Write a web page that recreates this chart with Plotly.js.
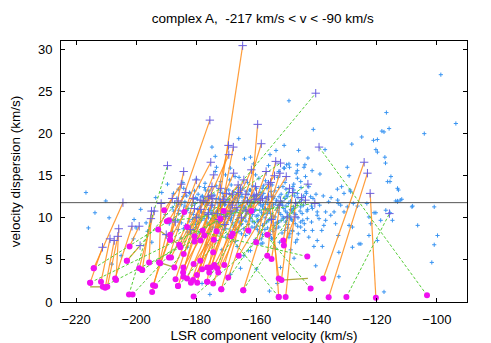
<!DOCTYPE html>
<html><head><meta charset="utf-8">
<script src="https://cdn.plot.ly/plotly-3.0.1.min.js"></script>
<style>html,body{margin:0;padding:0;background:#fff}#chart{width:491px;height:343px}</style>
</head><body><div id="chart"></div>
<script>
// ---- data ----
const chartTitle = "complex A,  -217 km/s < v < -90 km/s";
const xLabel = "LSR component velocity (km/s)";
const yLabel = "velocity dispersion (km/s)";
const xTicks = [-220, -200, -180, -160, -140, -120, -100];
const yTicks = [0, 5, 10, 15, 20, 25, 30];
const meanSigma = 11.8;

// background components (blue)
const blueX = [
-98.7,-93.7,-149.2,-141.1,-116.8,-118.3,-117.6,-115.9,-104.2,-125.0,-121.1,-119.8,-128.3,-120.3,-119.8,-117.3,-117.1,-142.9,-143.9,-144.2,-138.9,-129.2,-115.3,-115.6,-116.4,-113.1,-112.8,-111.7,-112.2,-113.1,-108.3,-100.9,-106.4,-99.8,-100.9,-101.7,-117.6,-129.8,-131.7,-133.1,-128.9,-132.8,-127.8,-123.3,-120.3,-117.0,-115.6,-114.8,-122.6,-129.2,-133.7,-135.3,-137.0,-139.8,-139.2,-141.7,-141.4,-138.3,-139.8,-132.8,-125.3,-128.1,-132.6,-140.3,-132.6,-142.0,-142.6,-143.7,-145.3,-146.4,-147.6,-146.4,-150.0,-150.7,
-137.2,-149.2,-146.4,-130.9,-128.7,-129.8,-126.4,-120.9,-118.7,-122.0,-108.1,-132.0,-130.9,-134.2,-137.0,-139.8,-141.4,-145.3,-147.6,-149.8,-145.3,-143.1,-145.3,-144.0,-142.6,-140.9,-138.1,-147.0,-137.6,-128.1,-122.6,-119.8,-125.9,-113.7,-113.1,
-189.6,-187.2,-185.9,-174.8,-165.9,-164.0,-162.0,-173.7,-168.7,-173.3,-173.7,-170.3,-168.9,-165.8,-160.3,-159.2,-152.6,-150.9,-149.0,-147.6,-154.8,-158.1,-162.0,-167.6,-172.0,-175.6,-170.9,-164.8,-159.8,-154.2,-149.8,-146.4,-178.1,-177.0,-156.0,-161.0,-155.5,-150.8,-146.0,-153.5,
-186.5,-183.2,-181.0,-179.4,-176.8,-174.1,-172.6,-171.2,-169.5,-168.0,-166.3,-165.1,-163.7,-162.2,-161.0,-159.1,-157.6,-156.2,-155.0,-153.3,-151.8,-150.6,-148.7,-147.3,-145.0,-143.4,-141.2,
-188.0,-185.0,-182.7,-180.4,-178.8,-177.5,-175.9,-174.6,-173.1,-171.8,-170.4,-169.1,-167.7,-166.6,-165.4,-164.1,-162.9,-161.6,-160.3,-159.2,-158.0,-156.9,-155.5,-154.3,-153.0,-151.6,-150.2,-148.6,-146.9,-144.4,-143.0,-139.0,-136.0,-133.0,
-190.3,-187.5,-184.6,-182.0,-180.1,-178.3,-176.7,-175.2,-173.8,-172.3,-171.0,-169.7,-168.3,-167.1,-165.9,-164.5,-163.2,-161.9,-160.7,-159.5,-158.3,-157.1,-155.8,-154.5,-153.1,-151.9,-150.4,-149.1,-147.8,-146.2,-144.8,-143.2,
-189.0,-186.2,-183.6,-181.3,-179.2,-177.4,-175.6,-174.0,-172.7,-171.3,-169.9,-168.6,-167.2,-165.8,-164.3,-162.8,-161.4,-160.0,-158.7,-157.3,-155.9,-154.2,-152.7,-151.0,-149.5,-147.9,-146.3,-144.6,
-187.9,-184.3,-181.8,-179.9,-177.9,-176.1,-174.6,-172.9,-171.1,-169.4,-167.6,-165.9,-164.2,-162.4,-160.6,-158.9,-157.2,-155.4,-153.6,-151.5,-149.7,-148.0,-146.1,
-185.1,-180.8,-177.0,-173.5,-170.2,-167.0,-163.6,-160.4,-157.9,-155.0,-152.3,-149.2,-146.5,
-183.0,-176.5,-171.5,-166.4,-162.7,-158.5,-153.8,-148.6,
-164.2,-165.3,-154.8,-153.1,-178.1,-158.4,-162.0,-152.0,-148.1,-147.5,-168.6,-160.0,-155.7,-175.5,
-186.0,-182.3,-179.0,-175.8,-173.4,-170.1,-168.4,-166.0,-163.4,-161.2,-158.8,-156.5,-153.9,-151.2,-149.3,-145.2,-143.5,-140.2,-137.8,-135.2,
-184.5,-180.0,-177.1,-171.9,-167.1,-163.0,-157.0,-152.9,-150.5,-146.8,-141.5,
-216.7,-213.7,-210.1,-215.9,-208.1,-200.7,-200.0,-200.9,-196.2,-196.7,-193.5,-191.5,-194.8,-198.5,-205.0,-209.0,
-170.6,-166.9,-163.9,-160.9,-157.7,-154.6,-151.4,-168.2,-162.5,-156.4,-176.2,-179.6,-183.8,-172.2,-165.0,-159.6,-153.0,-148.3,-144.1,-161.8,-157.0,-169.0,-174.8,-166.2,
-187.6,-184.4,-182.1,-180.2,-178.0,-175.5,-173.4,-170.8,-169.0,-167.3,-165.6,-164.4,-162.8,-160.5,-158.4,-156.8,-154.4,-152.5,-149.9,-146.2,-144.3,
-186.3,-183.8,-181.5,-179.6,-176.6,-174.0,-172.4,-170.9,-168.5,-166.0,-164.8,-163.5,-162.3,-160.9,-158.6,-157.4,-156.2,-154.9,-153.6,-152.3,-150.9,-149.4,-147.7,-145.6,-141.7,
-186.0,-183.2,-181.0,-179.2,-177.5,-176.0,-174.5,-173.0,-171.7,-170.3,-169.0,-167.7,-166.5,-165.2,-163.9,-162.5,-161.3,-160.1,-158.9,-157.7,-156.5,-155.2,-153.8,-152.5,-151.2,-149.8,-148.4,-146.9,-145.5,
-187.5,-185.0,-182.4,-180.2,-178.3,-176.5,-174.8,-173.3,-172.0,-170.6,-169.2,-167.9,-166.5,-165.1,-163.5,-162.1,-160.7,-159.3,-158.0,-156.6,-155.0,-153.5,-151.8,-150.3,-148.7,-147.1,
-186.0,-183.0,-180.8,-178.9,-175.3,-173.7,-172.0,-170.2,-168.5,-166.8,-165.0,-163.3,-161.5,-159.7,-158.0,-156.3,-154.5,-152.6,-150.6,-148.9,
-184.2,-180.6,-177.3,-172.0,-169.2,-164.7,-162.3,-160.0,-157.7,-155.2,-152.6,-150.2,-147.9
];
const blueY = [
27.0,21.2,23.9,20.5,22.5,20.3,20.2,20.6,20.0,19.6,19.2,19.3,18.75,18.1,17.8,17.2,16.5,17.1,16.3,16.0,15.2,15.0,14.9,14.3,14.3,13.5,13.3,12.2,12.1,12.0,11.3,11.3,9.1,7.9,6.8,4.7,1.2,16.0,13.7,13.4,13.3,11.7,11.7,11.7,10.6,10.9,10.6,9.7,10.1,9.1,9.3,10.3,10.7,10.7,9.9,9.5,8.5,8.5,7.3,7.9,6.9,6.5,5.9,4.3,3.0,12.5,13.7,14.9,14.3,14.7,14.0,16.3,16.3,15.9,
18.1,16.4,15.6,12.9,13.1,11.3,11.4,10.6,9.7,9.3,11.4,11.5,10.7,10.7,9.7,10.3,11.1,11.3,11.1,10.1,9.5,9.9,8.9,8.5,7.7,6.6,6.6,7.1,9.1,8.9,7.9,7.3,6.9,12.0,11.9,
14.0,11.8,10.9,18.4,19.4,17.0,17.2,17.3,15.9,16.0,15.5,15.1,14.5,14.8,15.1,14.7,15.5,15.9,16.0,13.3,13.9,13.5,13.3,13.1,13.3,12.5,12.5,12.5,12.7,12.5,12.5,12.9,12.5,13.3,16.2,16.4,17.5,18.6,18.0,18.0,
12.3,12.6,12.2,12.8,12.1,12.7,12.3,12.9,12.2,12.6,12.1,12.8,12.4,12.0,12.6,12.3,12.9,12.2,12.7,12.1,12.8,12.3,12.0,12.6,12.2,12.9,12.3,
11.2,11.6,11.1,11.7,11.3,11.9,11.0,11.5,11.8,11.1,11.6,11.3,11.9,11.0,11.5,11.2,11.8,11.4,11.0,11.7,11.3,11.9,11.1,11.6,11.2,11.8,11.4,11.0,11.7,11.5,11.0,11.5,11.9,12.1,
10.4,10.8,10.2,10.6,10.1,10.7,10.3,10.9,10.5,10.1,10.8,10.4,10.0,10.7,10.3,10.9,10.5,10.1,10.8,10.3,10.6,10.0,10.7,10.2,10.9,10.4,10.8,10.3,10.6,10.0,10.5,10.8,
9.3,9.7,9.1,9.8,9.4,9.9,9.2,9.6,9.0,9.8,9.4,9.7,9.1,9.5,9.9,9.2,9.6,9.0,9.8,9.3,9.7,9.1,9.5,9.9,9.2,9.6,9.0,9.7,
8.4,8.7,8.2,8.9,8.5,8.1,8.8,8.3,8.6,8.0,8.9,8.4,8.7,8.2,8.8,8.3,8.6,8.0,8.7,8.2,8.8,8.4,8.1,
7.6,7.1,7.8,7.3,7.7,7.2,7.9,7.4,7.0,7.6,7.1,7.7,7.4,
6.5,6.8,6.2,6.6,6.1,6.9,6.4,6.2,
5.5,4.0,7.5,2.2,2.2,7.5,6.1,4.1,8.5,5.2,3.3,3.9,1.3,0.9,
13.4,13.0,13.7,13.2,13.8,13.4,13.9,13.6,13.1,13.8,13.0,13.5,13.2,13.7,13.0,13.6,13.1,12.8,12.6,12.4,
14.2,14.6,14.1,14.3,14.9,14.2,14.4,14.8,14.2,15.3,15.6,
13.0,10.6,12.0,8.8,4.5,9.8,8.8,7.5,8.4,9.4,12.4,13.0,7.1,11.0,5.5,10.0,
11.5,12.4,11.3,12.5,11.6,12.4,11.5,10.6,10.9,10.5,11.7,12.2,11.4,9.5,9.3,9.6,9.4,9.8,9.3,11.9,11.1,12.1,10.5,12.7,
12.9,12.5,12.9,12.4,12.6,12.4,12.2,12.5,12.8,12.3,12.5,12.0,12.8,12.2,12.6,12.4,12.3,12.5,12.7,12.4,12.6,
11.4,11.9,11.5,11.0,11.6,11.2,11.5,11.9,11.6,11.8,11.5,11.0,11.5,11.9,11.5,11.1,11.6,11.4,11.8,11.5,11.1,11.7,11.3,11.9,11.4,
10.5,10.9,10.4,10.2,10.6,10.0,10.6,10.8,10.4,10.1,10.7,10.3,10.9,10.5,10.1,10.7,10.4,10.2,10.9,10.4,10.9,10.5,10.1,10.6,10.1,10.6,10.9,10.4,10.8,
9.8,9.4,9.6,9.2,9.7,9.5,9.9,9.4,9.6,9.1,9.9,9.4,9.8,9.2,9.6,9.9,9.4,9.6,9.1,9.5,9.9,9.4,9.7,9.5,9.9,9.3,
8.6,8.3,8.6,8.2,8.6,8.9,8.1,8.7,8.4,8.6,8.1,8.5,8.9,8.6,8.0,8.8,8.4,8.9,8.5,8.1,
13.5,13.2,13.6,13.0,13.3,13.5,13.3,13.5,13.8,13.1,13.6,13.4,13.7
];

// orange links: low-sigma component (dot) -> matched component (plus)
const orDotX  = [-176.4,-192.0,-162.7,-179.7,-174.4,-188.7,-188.7,-170.7,-165.9,-137.8,-136.0,-120.3,-214.1,-215.3,-211.7,-210.3,-209.6,-206.7,-207.0,-198.0,-199.0,-195.7,-192.4,-203.1,-189.1,-188.4,-185.7,-185.3,-187.3,-186.9,-186.1,-184.3,-184.4,-184.3,-183.1,-181.8,-181.1,-184.2,-183.1,-180.6,-180.6,-180.9,-179.8,-177.9,-177.3,-178.7,-178.1,-176.4,-175.7,-174.4,-174.0,-173.1,-171.7,-169.4,-172.0,-167.9,-164.4,-160.1,-161.7,-156.4,-155.0,-151.1,-150.9,-152.6,-151.7,-152.6,-150.3,-156.4,-170.9,-173.3,-174.2,-178.6,-189.1,-190.7,-184.0,-192.7,-202.2,-194.4,-194.7,-172.7,-175.1];
const orDotY  = [2.4,4.6,8.5,2.3,5.9,7.4,8.0,4.4,5.5,2.8,0.55,0.5,4.0,2.3,2.4,1.7,1.8,2.6,2.8,3.8,4.0,4.7,4.7,4.9,5.3,5.3,6.8,6.5,4.1,2.7,1.9,4.1,3.5,3.0,2.8,2.3,2.6,5.7,8.9,7.8,7.2,4.5,3.2,8.5,7.9,4.9,3.9,4.1,3.5,2.2,4.4,4.0,1.5,2.9,9.9,8.1,1.4,7.1,10.8,5.5,5.1,7.3,6.7,2.8,2.6,0.6,0.6,8.0,10.8,8.4,7.4,7.3,9.7,10.9,10.7,8.6,6.6,2.0,1.2,3.5,4.1];
const orPlusX = [-164.6,-175.5,-159.6,-169.3,-167.7,-175.2,-184.2,-158.4,-150.1,-124.2,-123.1,-122.2,-204.4,-211.2,-208.7,-207.3,-206.1,-205.8,-201.4,-194.9,-194.0,-195.1,-191.7,-198.7,-184.2,-180.6,-177.6,-174.8,-174.2,-180.0,-176.0,-170.0,-178.5,-175.0,-167.6,-172.0,-165.3,-169.2,-181.0,-175.0,-166.1,-168.0,-173.0,-174.5,-170.5,-164.2,-172.5,-161.7,-168.5,-163.5,-160.3,-166.5,-165.0,-156.8,-163.0,-154.0,-152.2,-153.6,-158.0,-155.0,-152.0,-149.8,-147.2,-156.0,-148.0,-155.3,-147.0,-152.5,-166.0,-171.0,-168.0,-176.0,-183.5,-185.0,-180.0,-188.0,-199.0,-187.0,-190.0,-160.8,-170.2];
const orPlusY = [30.45,21.6,21.1,18.6,18.4,16.6,15.5,18.8,14.9,16.6,15.3,12.9,11.8,6.5,7.5,7.3,7.8,8.7,9.0,10.8,10.8,9.9,11.7,6.7,10.8,11.1,12.0,13.7,15.1,10.0,12.5,12.9,11.0,11.5,15.3,11.8,13.3,17.5,12.3,12.6,13.9,11.5,10.5,12.3,11.9,14.5,9.8,15.7,10.8,12.8,13.7,11.2,10.0,15.5,12.0,15.0,15.3,16.7,12.3,9.8,12.0,10.1,10.1,12.5,13.0,14.2,11.8,11.5,13.0,12.2,12.8,10.4,13.0,14.0,14.5,12.3,9.0,9.5,8.0,12.6,10.2];

// olive links between two low-sigma components
const linkAX = [-215.3,-151.7,-192.4,-192.7];
const linkAY = [1.8,2.6,4.7,8.6];
const linkBX = [-211.1,-142.9,-187.3,-185.7];
const linkBY = [1.8,2.8,4.1,6.8];

// green dashed links
const grDotX  = [-202.4,-193.7,-103.3,-130.1,-168.4,-143.1,-152.6,-189.8,-180.9,-215.3,-211.1,-214.1,-201.2,-198.0,-142.0,-186.1,-203.1,-171.7,-188.7,-176.4,-164.4];
const grDotY  = [0.9,1.9,0.8,0.6,7.8,5.4,0.6,9.6,0.65,2.3,1.8,4.0,0.9,3.8,1.6,1.9,4.9,1.5,7.4,2.4,1.4];
const grPlusX = [-189.6,-140.3,-139.2,-115.8,-142.9,-182.0,-178.7,-140.6,-143.7,-158.7,-170.5,-172.0,-176.0,-160.0,-163.5,-156.0,-186.0,-149.0,-152.0,-160.5,-145.0];
const grPlusY = [16.2,24.8,18.4,10.5,14.0,8.6,12.1,11.7,12.1,12.1,9.2,13.5,10.6,12.8,10.8,14.0,12.0,13.5,16.5,12.2,12.4];

// ---- build traces ----
function segs(ax, ay, bx, by) {
  const x = [], y = [];
  for (let i = 0; i < ax.length; i++) { x.push(ax[i], bx[i], null); y.push(ay[i], by[i], null); }
  return {x, y};
}
const oS = segs(orDotX, orDotY, orPlusX, orPlusY);
const gS = segs(grDotX, grDotY, grPlusX, grPlusY);
const lS = segs(linkAX, linkAY, linkBX, linkBY);
const allDotX = orDotX.concat(grDotX), allDotY = orDotY.concat(grDotY);
const allPlusX = orPlusX.concat(grPlusX), allPlusY = orPlusY.concat(grPlusY);

const traces = [
  {type:'scatter', mode:'markers', x: blueX, y: blueY, hoverinfo:'skip',
   marker:{symbol:'cross-thin-open', size:3, color:'#3a95f2', line:{width:1, color:'#3a95f2'}}},
  {type:'scatter', mode:'lines', x: oS.x, y: oS.y, connectgaps:false,
   line:{color:'rgba(255,140,25,0.85)', width:1.2}},
  {type:'scatter', mode:'lines', x: lS.x, y: lS.y, connectgaps:false,
   line:{color:'rgba(160,150,30,0.85)', width:1.3}},
  {type:'scatter', mode:'lines', x: gS.x, y: gS.y, connectgaps:false,
   line:{color:'rgba(85,205,55,1)', width:1, dash:'3px,2px'}},
  {type:'scatter', mode:'markers', x: allPlusX, y: allPlusY,
   marker:{symbol:'cross-thin-open', size:6, color:'#6a5fe0', line:{width:1, color:'#6a5fe0'}}},
  {type:'scatter', mode:'markers', x: allDotX, y: allDotY,
   marker:{symbol:'circle', size:6, color:'#f010f0', line:{width:0}}}
];

const fontFam = 'Liberation Sans, Arial, Helvetica, sans-serif';
const layout = {
  width: 491, height: 343,
  margin: {l:61, r:24, t:41, b:41},
  paper_bgcolor:'#fff', plot_bgcolor:'#fff',
  showlegend:false,
  font:{family: fontFam, color:'#000', size:12},
  title:{text: chartTitle, x:0.535, xanchor:'center', y:0.947, yanchor:'middle', yref:'container',
         font:{family: fontFam, size:13.5, color:'#000'}},
  xaxis:{range:[-225,-90], tickvals:xTicks, ticks:'inside', ticklen:4, tickcolor:'#000',
         showline:true, linecolor:'#000', linewidth:1, mirror:'ticks', showgrid:false, zeroline:false,
         tickfont:{size:13}, ticklabelstandoff:5,
         title:{text:xLabel, font:{size:13.5}, standoff:8}},
  yaxis:{range:[0,31], tickvals:yTicks, ticks:'inside', ticklen:4, tickcolor:'#000',
         showline:true, linecolor:'#000', linewidth:1, mirror:'ticks', showgrid:false, zeroline:false,
         tickfont:{size:13}, ticklabelstandoff:5,
         title:{text:yLabel, font:{size:13.5}, standoff:14}},
  shapes:[{type:'line', xref:'paper', x0:0, x1:1, yref:'y', y0:meanSigma, y1:meanSigma,
           line:{color:'#555', width:1}, layer:'above'}]
};
Plotly.newPlot('chart', traces, layout, {staticPlot:true, displayModeBar:false});
</script></body></html>
